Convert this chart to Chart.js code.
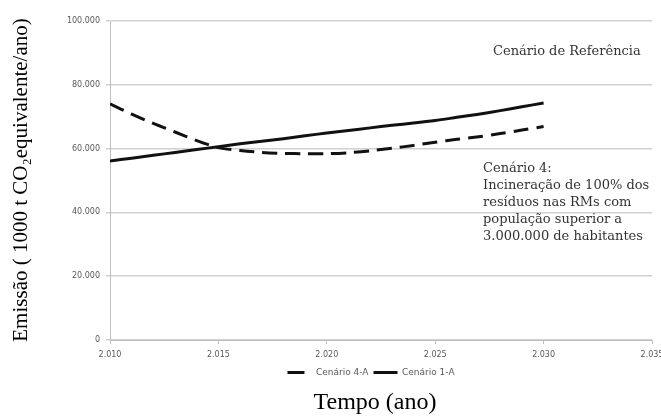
<html>
<head>
    <script src="https://cdn.jsdelivr.net/npm/chart.js@4"></script>
    <style>
        body { margin: 0; background: #fff; }
    </style>
</head>
<body>
<canvas id="myChart" width="661" height="417"></canvas>
<script>
    // anos e valores
    var anos = [2010, 2011, 2012, 2013, 2014, 2015, 2016, 2017, 2018, 2019, 2020,
                2021, 2022, 2023, 2024, 2025, 2026, 2027, 2028, 2029, 2030];
    var cenario4A = [74000, 70800, 67900, 65200, 62500, 60300, 59400, 58800, 58500, 58400, 58400,
                     58700, 59300, 60100, 61000, 62000, 62900, 63700, 64700, 65800, 66900];
    var cenario1A = [56100, 57000, 57900, 58800, 59700, 60600, 61500, 62300, 63100, 64000, 64900,
                     65700, 66500, 67300, 68000, 68800, 69800, 70800, 71900, 73100, 74300];
    var serieNomes = ["Cenário 4-A", "Cenário 1-A"];
    var yTitulo = "Emissão ( 1000 t CO₂equivalente/ano)";
    var xTitulo = "Tempo (ano)";
    var notaRef = "Cenário de Referência";
    var nota4 = ["Cenário 4:", "Incineração de 100% dos", "resíduos nas RMs com",
                 "população superior a", "3.000.000 de habitantes"];

    function pontos(vals) {
        var out = [];
        for (var i = 0; i < anos.length; i++) {
            out.push({x: anos[i], y: vals[i]});
        }
        return out;
    }

    var fmt = new Intl.NumberFormat('pt-BR');

    // titulos e notas desenhados por cima
    var textos = {
        id: 'textos',
        afterDraw: function(chart) {
            var ctx = chart.ctx;
            ctx.save();
            ctx.fillStyle = '#000';
            ctx.font = '21px "Liberation Serif"';
            ctx.textAlign = 'center';
            ctx.textBaseline = 'middle';
            ctx.translate(21, 180);
            ctx.rotate(-Math.PI / 2);
            ctx.fillText(yTitulo, 0, 0);
            ctx.restore();

            ctx.save();
            ctx.fillStyle = '#000';
            ctx.font = '24px "Liberation Serif"';
            ctx.textAlign = 'center';
            ctx.textBaseline = 'middle';
            ctx.fillText(xTitulo, 375, 403);

            ctx.fillStyle = '#333';
            ctx.font = '13px "DejaVu Serif"';
            ctx.textAlign = 'left';
            ctx.fillText(notaRef, 493, 52);
            for (var i = 0; i < nota4.length; i++) {
                ctx.fillText(nota4[i], 483, 169 + i * 17);
            }
            ctx.restore();
        }
    };

    var ctx = document.getElementById('myChart').getContext('2d');
    var chart = new Chart(ctx, {
        type: 'line',
        data: {
            datasets: [{
                label: serieNomes[0],
                data: pontos(cenario4A),
                borderColor: '#111',
                backgroundColor: '#111',
                borderWidth: 3,
                borderDash: [15, 8],
                pointRadius: 0,
                pointStyle: 'line',
                tension: 0.3
            }, {
                label: serieNomes[1],
                data: pontos(cenario1A),
                borderColor: '#111',
                backgroundColor: '#111',
                borderWidth: 3,
                pointRadius: 0,
                pointStyle: 'line',
                tension: 0.3
            }]
        },
        options: {
            responsive: false,
            animation: false,
            layout: { padding: { top: 21, right: 9, bottom: 30, left: 90 } },
            plugins: {
                legend: {
                    position: 'bottom',
                    labels: {
                        usePointStyle: true,
                        pointStyleWidth: 24,
                        boxHeight: 6,
                        padding: 5,
                        color: '#595959',
                        font: { family: 'DejaVu Sans', size: 9 },
                        generateLabels: function(chart) {
                            var items = Chart.defaults.plugins.legend.labels.generateLabels(chart);
                            items.forEach(function(it) {
                                var ds = chart.data.datasets[it.datasetIndex];
                                // na legenda o tracejado aparece como um traço só
                                it.lineDash = ds.borderDash ? [17, 20] : [];
                                it.lineWidth = 3;
                            });
                            return items;
                        }
                    }
                },
                tooltip: { enabled: false }
            },
            scales: {
                x: {
                    type: 'linear',
                    min: 2010,
                    max: 2035,
                    ticks: {
                        stepSize: 5,
                        color: '#595959',
                        font: { family: 'DejaVu Sans', size: 8 },
                        maxRotation: 0,
                        padding: 6,
                        callback: function(v) { return fmt.format(v); }
                    },
                    grid: { display: true, drawOnChartArea: false, tickLength: 4, color: '#bfbfbf' },
                    border: { color: '#bfbfbf' },
                    afterFit: function(s) {
                        s.height = 23;
                        // o rótulo 2.035 pode passar da borda, como no original
                        s.paddingLeft = 0;
                        s.paddingRight = 0;
                    }
                },
                y: {
                    min: 0,
                    max: 100000,
                    ticks: {
                        stepSize: 20000,
                        color: '#595959',
                        font: { family: 'DejaVu Sans', size: 8 },
                        padding: 6,
                        callback: function(v) { return fmt.format(v); }
                    },
                    grid: { color: '#d0d0d0', lineWidth: 1.5, tickLength: 4 },
                    border: { color: '#bfbfbf' },
                    afterFit: function(s) {
                        s.width = 20;
                        // não cortar os rótulos que saem da caixa do eixo
                        s._computeLabelArea = function() { return undefined; };
                    }
                }
            }
        },
        plugins: [textos]
    });
</script>
</body>
</html>
